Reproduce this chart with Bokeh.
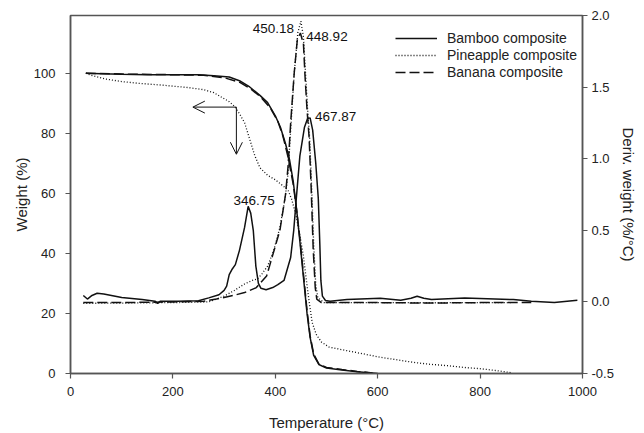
from bokeh.plotting import figure
from bokeh.models import (Range1d, LinearAxis, Legend, LegendItem, Arrow, OpenHead,
                          FixedTicker, ColumnDataSource, CustomJSTickFormatter)
from bokeh.core.properties import value
from bokeh.embed import file_html
from bokeh.resources import INLINE

FONT = "Liberation Sans"

# ---------------- data ----------------
# TGA (weight %, left axis)
bamboo_tga_t = [30, 60, 100, 150, 200, 250, 280, 310, 330, 350, 370, 385, 400, 410, 420, 428, 435, 442, 448, 455, 462, 468, 475, 485, 500, 530, 560, 600]
bamboo_tga_w = [100, 99.8, 99.6, 99.5, 99.5, 99.5, 99.1, 98.7, 97.5, 95.4, 92.6, 90.2, 85.8, 82.0, 76.5, 71.0, 64.0, 54.0, 44.0, 32.0, 20.0, 12.0, 6.0, 3.0, 1.8, 1.2, 0.6, 0.0]

banana_tga_t = [30, 100, 200, 260, 300, 330, 350, 370, 390, 405, 415, 425, 435, 442, 448, 455, 462, 468, 475, 485, 500, 530, 560, 590]
banana_tga_w = [100, 99.7, 99.5, 99.3, 98.5, 97.0, 95.0, 92.3, 88.5, 84.0, 79.0, 72.0, 63.0, 54.0, 45.0, 33.0, 21.0, 12.5, 6.5, 3.2, 2.0, 1.3, 0.7, 0.2]

pine_tga_t = [30, 40, 70, 100, 135, 180, 230, 260, 280, 295, 310, 320, 330, 340, 350, 360, 370, 385, 400, 415, 425, 432, 440, 448, 455, 460, 466, 472, 480, 490, 505, 540, 570, 605, 640, 670, 700, 736, 770, 800, 830, 860]
pine_tga_w = [100, 99.3, 98.0, 97.2, 96.6, 96.0, 95.2, 94.5, 93.5, 92.0, 90.5, 89.0, 86.5, 83.5, 78.0, 72.5, 68.5, 66.0, 64.5, 62.5, 61.0, 58.0, 53.0, 46.0, 39.0, 32.0, 24.0, 17.0, 13.0, 10.5, 8.8, 7.6, 6.6, 5.4, 4.5, 3.7, 3.1, 2.6, 2.0, 1.6, 1.0, 0.3]

# DTG (deriv. weight %/°C, right axis)
bamboo_dtg_t = [25, 33, 42, 52, 65, 80, 100, 140, 165, 170, 175, 210, 250, 270, 290, 300, 305, 310, 316, 322, 330, 340, 347, 352, 357, 362, 367, 372, 382, 395, 405, 417, 430, 436, 441, 448, 457, 463, 468, 473, 479, 484, 487, 489, 492, 498, 507, 540, 605, 645, 665, 677, 690, 705, 770, 865, 900, 945, 990]
bamboo_dtg_d = [0.045, 0.02, 0.045, 0.06, 0.055, 0.045, 0.03, 0.016, 0.005, -0.01, 0.004, 0.004, 0.008, 0.028, 0.05, 0.08, 0.11, 0.19, 0.23, 0.26, 0.36, 0.52, 0.667, 0.62, 0.50, 0.25, 0.13, 0.095, 0.085, 0.10, 0.12, 0.15, 0.31, 0.50, 0.72, 1.02, 1.22, 1.28, 1.285, 1.20, 0.97, 0.72, 0.40, 0.15, 0.04, 0.01, 0.004, 0.016, 0.025, 0.012, 0.025, 0.04, 0.025, 0.016, 0.028, 0.016, 0.004, -0.004, 0.011]

banana_dtg_t = [25, 100, 200, 260, 285, 318, 340, 363, 383, 396, 409, 420, 425, 430, 437, 443, 449, 455, 458, 462, 466, 470, 474, 478, 481, 490, 600, 700, 800, 900]
banana_dtg_d = [-0.005, -0.005, 0.0, 0.005, 0.02, 0.045, 0.065, 0.10, 0.18, 0.34, 0.50, 0.75, 0.95, 1.25, 1.60, 1.83, 1.878, 1.80, 1.58, 1.34, 1.15, 0.80, 0.37, 0.10, 0.02, -0.005, -0.005, -0.008, -0.005, -0.005]

pine_dtg_t = [25, 100, 200, 270, 300, 320, 340, 355, 365, 374, 385, 397, 409, 419, 425, 430, 437, 444, 450, 455, 459, 463, 467, 471, 475, 479, 483, 495, 600, 700, 860]
pine_dtg_d = [-0.01, -0.008, -0.005, 0.0, 0.04, 0.08, 0.125, 0.15, 0.16, 0.196, 0.25, 0.36, 0.52, 0.72, 0.90, 1.20, 1.60, 1.88, 1.96, 1.85, 1.60, 1.35, 1.15, 0.80, 0.40, 0.12, 0.03, -0.005, -0.005, -0.006, -0.005]

peak_labels = ["450.18", "448.92", "467.87", "346.75"]
peak_t = [450.18, 448.92, 467.87, 346.75]
peak_d = [1.96, 1.878, 1.285, 0.667]

arrow_t = [324, 239]      # horizontal arrow: from, to (°C)
arrow_w = [88.7, 73.0]    # arrow level and vertical arrow end (weight %)

x_ticks = [0, 200, 400, 600, 800, 1000]
w_ticks = [0, 20, 40, 60, 80, 100]
d_ticks = [-0.5, 0.0, 0.5, 1.0, 1.5, 2.0]
legend_names = ["Bamboo composite", "Pineapple composite", "Banana composite"]

# ---------------- figure ----------------
p = figure(width=644, height=433, output_backend="svg", toolbar_location=None,
           x_range=Range1d(0, 1000), y_range=Range1d(0, 119.2),
           min_border_left=70, min_border_right=62, min_border_top=15, min_border_bottom=60)
p.extra_y_ranges = {"deriv": Range1d(-0.5, 2.0)}
p.xgrid.visible = False
p.ygrid.visible = False
p.outline_line_color = "#555555"
p.outline_line_width = 1.5
p.background_fill_color = "white"
p.border_fill_color = "white"

INK = "#111111"
DASH = "10 4"
DOT = "1 2"

r_b = p.line(bamboo_tga_t, bamboo_tga_w, line_color=INK, line_width=1.5)
r_p = p.line(pine_tga_t, pine_tga_w, line_color=INK, line_width=1.3, line_dash=DOT)
r_n = p.line(banana_tga_t, banana_tga_w, line_color=INK, line_width=1.5, line_dash=DASH)
p.line(bamboo_dtg_t, bamboo_dtg_d, line_color=INK, line_width=1.5, y_range_name="deriv")
p.line(pine_dtg_t, pine_dtg_d, line_color=INK, line_width=1.3, line_dash=DOT, y_range_name="deriv")
p.line(banana_dtg_t, banana_dtg_d, line_color=INK, line_width=1.5, line_dash=DASH, y_range_name="deriv")

# peak labels (offsets in screen px, + is down)
offs_x = [-7, 6, 5, 6]
offs_y = [7, 4, -1, -6]
aligns = ["right", "left", "left", "center"]
src = ColumnDataSource(dict(x=peak_t, y=peak_d, t=peak_labels, dx=offs_x, dy=offs_y, al=aligns))
p.text(x="x", y="y", text="t", x_offset="dx", y_offset="dy", text_align="al",
       text_baseline="middle", source=src, y_range_name="deriv",
       text_font=value(FONT), text_font_size="13.5px", text_color="#111111")

# arrows
p.add_layout(Arrow(end=OpenHead(size=12, line_width=1, line_color=INK),
                   x_start=arrow_t[0], y_start=arrow_w[0], x_end=arrow_t[1], y_end=arrow_w[0],
                   line_width=1, line_color=INK))
p.add_layout(Arrow(end=OpenHead(size=12, line_width=1, line_color=INK),
                   x_start=arrow_t[0], y_start=arrow_w[0], x_end=arrow_t[0], y_end=arrow_w[1],
                   line_width=1, line_color=INK))

# axes
def style_axis(ax):
    ax.axis_line_color = "#555555"
    ax.axis_line_width = 1.5
    ax.major_tick_line_color = "#555555"
    ax.major_tick_line_width = 1.2
    ax.major_tick_out = 5
    ax.major_tick_in = 0
    ax.minor_tick_line_color = None
    ax.major_label_text_font = FONT
    ax.major_label_text_font_size = "13px"
    ax.major_label_text_color = "#222222"
    ax.axis_label_text_font = FONT
    ax.axis_label_text_font_size = "15px"
    ax.axis_label_text_font_style = "normal"
    ax.axis_label_text_color = "#222222"

xa = p.xaxis[0]
xa.axis_label = "Temperature (°C)"
xa.ticker = FixedTicker(ticks=x_ticks)
style_axis(xa)
xa.major_label_standoff = 8
xa.axis_label_standoff = 15

ya = p.yaxis[0]
ya.axis_label = "Weight (%)"
ya.ticker = FixedTicker(ticks=w_ticks)
style_axis(ya)
ya.major_label_standoff = 10
ya.axis_label_standoff = 1

ra = LinearAxis(y_range_name="deriv", axis_label="Deriv. weight (%/°C)")
ra.ticker = FixedTicker(ticks=d_ticks)
ra.formatter = CustomJSTickFormatter(code="return tick.toFixed(1);")
style_axis(ra)
ra.major_label_standoff = 4
ra.axis_label_standoff = 3
p.add_layout(ra, "right")

legend = Legend(items=[LegendItem(label=legend_names[0], renderers=[r_b]),
                       LegendItem(label=legend_names[1], renderers=[r_p]),
                       LegendItem(label=legend_names[2], renderers=[r_n])],
                location=(325, 293))
legend.border_line_color = None
legend.background_fill_alpha = 0
legend.padding = 0
legend.margin = 0
legend.spacing = 1
legend.glyph_width = 42
legend.glyph_height = 16
legend.label_height = 16
legend.label_standoff = 10
legend.label_text_font = FONT
legend.label_text_font_size = "14px"
legend.label_text_color = "#222222"
p.add_layout(legend, "center")

open("out.html", "w").write(file_html(p, INLINE))
